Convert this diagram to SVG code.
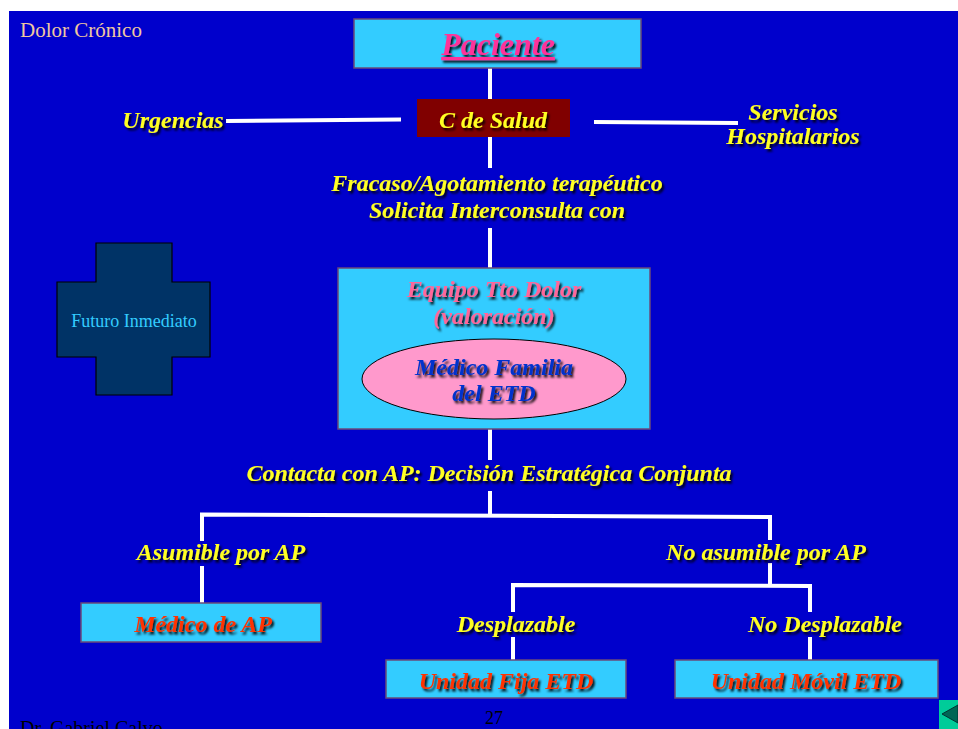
<svg xmlns="http://www.w3.org/2000/svg" width="958" height="729" viewBox="0 0 958 729">
<defs>
<filter id="sh" x="-10%" y="-30%" width="130%" height="170%">
<feDropShadow dx="2" dy="2.5" stdDeviation="0.8" flood-color="#000" flood-opacity="0.9"/>
</filter>
<style>
.t{font-family:"Liberation Serif","Times New Roman",serif;font-weight:bold;font-style:italic;text-anchor:middle;filter:url(#sh)}
.y{fill:#FFFF22;font-size:24px}
.box{fill:#33CCFF;stroke:#6A4A7A;stroke-width:1.5}
.r{fill:#FF3300;font-size:24px}
.ln{stroke:#FFFFFF;stroke-width:4;fill:none}
.plain{font-family:"Liberation Serif","Times New Roman",serif}
</style>
</defs>
<rect x="0" y="0" width="958" height="729" fill="#FFFFFF"/>
<rect x="9" y="11" width="949" height="718" fill="#0000CC"/>
<text class="plain" x="20" y="37" font-size="21" fill="#F0C8A0">Dolor Crónico</text>

<g id="connectors">
<line class="ln" x1="490" y1="68" x2="490" y2="107"/>
<line class="ln" x1="490" y1="131" x2="490" y2="168"/>
<line class="ln" x1="226" y1="121" x2="401" y2="119.5"/>
<line class="ln" x1="594" y1="122" x2="738" y2="123"/>
<line class="ln" x1="490" y1="228" x2="490" y2="268"/>
<line class="ln" x1="490" y1="429" x2="490" y2="460"/>
<polyline class="ln" points="490,491 490,514"/>
<polyline class="ln" points="202,541 202,514.5 770,517 770,540"/>
<line class="ln" x1="202" y1="566" x2="202" y2="604"/>
<polyline class="ln" points="770,563 770,586"/>
<polyline class="ln" points="513,612 513,585 810,586 810,612"/>
<line class="ln" x1="513" y1="637" x2="513" y2="660"/>
<line class="ln" x1="810" y1="637" x2="810" y2="660"/>
</g>

<g id="paciente">
<rect class="box" x="354" y="19" width="287" height="49"/>
<text class="t" x="498" y="55" font-size="32" fill="#FF3399" text-decoration="underline">Paciente</text>
</g>

<g id="csalud">
<rect x="417" y="99" width="153" height="38" fill="#800000"/>
<text class="t y" x="493" y="128" font-size="25">C de Salud</text>
</g>

<g id="urgencias">
<text class="t y" x="173" y="128">Urgencias</text>
</g>

<g id="servicios">
<text class="t y" x="793" y="120">Servicios</text>
<text class="t y" x="793" y="144">Hospitalarios</text>
</g>

<g id="fracaso">
<text class="t y" x="497" y="191">Fracaso/Agotamiento terapéutico</text>
<text class="t y" x="497" y="218">Solicita Interconsulta con</text>
</g>

<g id="equipo">
<rect class="box" x="338" y="268" width="312" height="161"/>
<text class="t" x="494" y="297" font-size="24" fill="#FF6699">Equipo Tto Dolor</text>
<text class="t" x="494" y="324" font-size="24" fill="#FF6699">(valoración)</text>
<ellipse cx="494" cy="379" rx="132" ry="40" fill="#FF99CC" stroke="#000" stroke-width="1"/>
<text class="t" x="494" y="375" font-size="24" fill="#0033CC">Médico Familia</text>
<text class="t" x="494" y="401" font-size="24" fill="#0033CC">del ETD</text>
</g>

<g id="futuro">
<path d="M96,243 H172 V282 H210 V357 H172 V395 H96 V357 H57 V282 H96 Z" fill="#003366" stroke="#000" stroke-width="1.2"/>
<text class="plain" x="134" y="327" font-size="18" fill="#33CCFF" text-anchor="middle">Futuro Inmediato</text>
</g>

<g id="contacta">
<text class="t y" x="489" y="481">Contacta con AP: Decisión Estratégica Conjunta</text>
</g>

<g id="asumible">
<text class="t y" x="221" y="560">Asumible por AP</text>
</g>
<g id="noasumible">
<text class="t y" x="766" y="560">No asumible por AP</text>
</g>

<g id="medicoap">
<rect class="box" x="81" y="603" width="240" height="39"/>
<text class="t r" x="203" y="632">Médico de AP</text>
</g>

<g id="desplazable">
<text class="t y" x="516" y="632">Desplazable</text>
</g>
<g id="nodesplazable">
<text class="t y" x="825" y="632">No Desplazable</text>
</g>

<g id="unidadfija">
<rect class="box" x="386" y="660" width="240" height="38"/>
<text class="t r" x="506" y="689">Unidad Fija ETD</text>
</g>
<g id="unidadmovil">
<rect class="box" x="675" y="660" width="263" height="38"/>
<text class="t r" x="806" y="689">Unidad Móvil ETD</text>
</g>

<text class="plain" x="494" y="724" font-size="18" fill="#000" text-anchor="middle">27</text>
<text class="plain" x="20" y="735" font-size="20" fill="#000">Dr. Gabriel Calvo</text>

<g id="navbutton">
<rect x="939" y="700" width="19" height="29" fill="#00CC99"/>
<polygon points="942,714 958,705 958,723" fill="#006655" stroke="#003333" stroke-width="1"/>
</g>
</svg>
